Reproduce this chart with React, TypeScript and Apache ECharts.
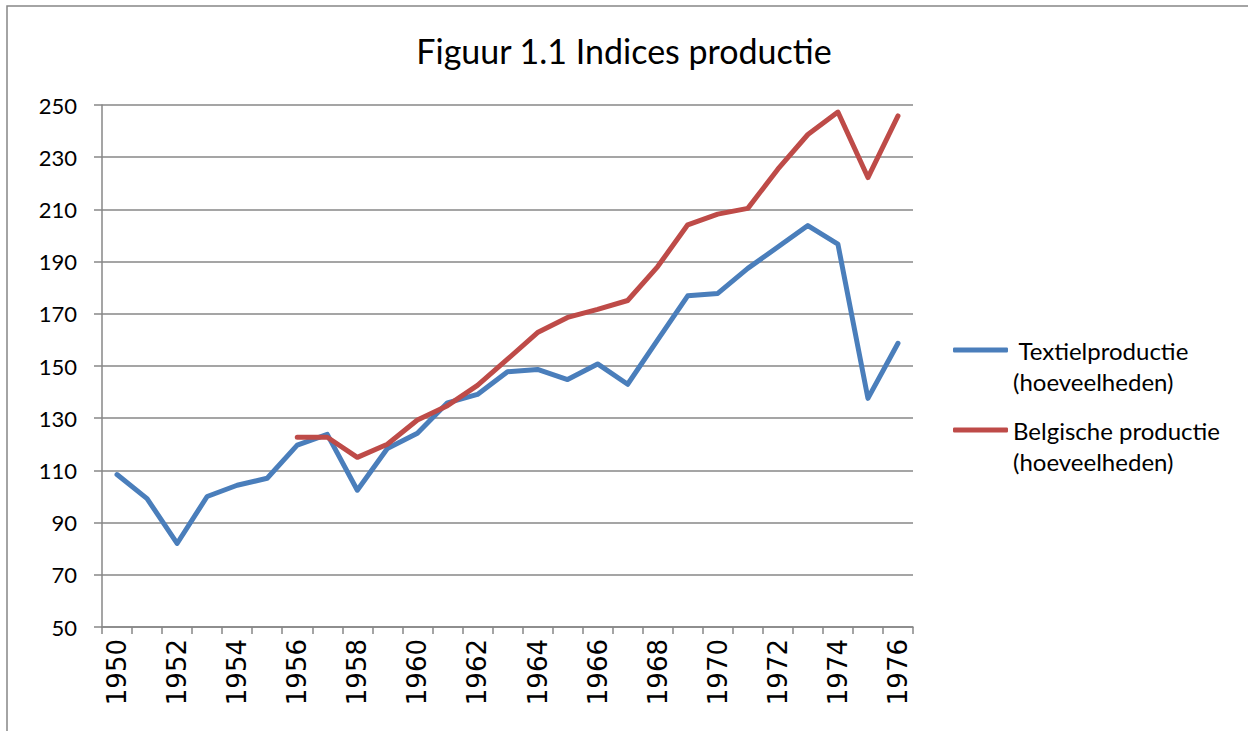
import React, { useEffect, useRef } from "react";
import * as echarts from "echarts";

const years = [
  "1950", "1951", "1952", "1953", "1954", "1955", "1956", "1957", "1958", "1959",
  "1960", "1961", "1962", "1963", "1964", "1965", "1966", "1967", "1968", "1969",
  "1970", "1971", "1972", "1973", "1974", "1975", "1976",
];

const textielName = " Textielproductie\n(hoeveelheden)";
const belgischeName = "Belgische productie\n(hoeveelheden)";

const textielValues = [
  108.4, 99.2, 82, 100, 104.3, 107, 119.7, 123.8, 102.4, 118.4,
  124.2, 135.9, 139.1, 147.8, 148.7, 144.8, 150.8, 143, 160, 176.9,
  177.8, 187.4, 195.6, 203.8, 196.7, 137.6, 158.7,
];

const belgischeValues: (number | null)[] = [
  null, null, null, null, null, null, 122.7, 122.7, 115, 120,
  129.3, 134.8, 142.6, 152.6, 162.8, 168.6, 171.7, 175.1, 188.1, 204.1,
  208.2, 210.4, 225.4, 238.7, 247.3, 222.2, 245.8,
];

const titleText = "Figuur 1.1 Indices productie";
const yMin = 50;
const yMax = 250;
const yInterval = 20;

export default function App() {
  const ref = useRef<HTMLDivElement>(null);

  useEffect(() => {
    if (!ref.current) return;
    const chart = echarts.init(ref.current, undefined, { renderer: "svg" });
    const gray = "#878787";
    const latoFont = "Lato, 'Open Sans', sans-serif";
    const legendCommon = {
      orient: "vertical" as const,
      left: 953,
      padding: 0,
      icon: "roundRect",
      itemWidth: 55,
      itemHeight: 5,
      formatter: (n: string) => "\n" + n,
      textStyle: {
        fontFamily: latoFont,
        fontSize: 24,
        lineHeight: 31,
        color: "#000",
      },
    };
    chart.setOption({
      animation: false,
      backgroundColor: "#ffffff",
      title: {
        text: titleText,
        left: "center",
        top: 28,
        textStyle: {
          fontFamily: latoFont,
          fontSize: 34,
          fontWeight: "normal",
          color: "#000",
        },
      },
      graphic: [
        {
          type: "rect",
          shape: { x: 7, y: 6, width: 1300, height: 800 },
          style: { fill: "none", stroke: gray, lineWidth: 1.5 },
          silent: true,
        },
      ],
      legend: [
        { ...legendCommon, top: 303.5, data: [textielName] },
        { ...legendCommon, top: 383.5, data: [belgischeName] },
      ],
      grid: {
        left: 102,
        right: 335,
        top: 105,
        bottom: 104,
        containLabel: false,
      },
      xAxis: {
        type: "category",
        data: years,
        boundaryGap: true,
        axisLine: { lineStyle: { color: gray, width: 1.5 } },
        axisTick: {
          show: true,
          alignWithLabel: false,
          interval: 0,
          length: 7,
          lineStyle: { color: gray, width: 1.5 },
        },
        axisLabel: {
          interval: 1,
          rotate: 90,
          margin: 12,
          fontFamily: "'DejaVu Sans', Verdana, sans-serif",
          fontSize: 26,
          color: "#000",
        },
        splitLine: { show: false },
      },
      yAxis: {
        type: "value",
        min: yMin,
        max: yMax,
        interval: yInterval,
        axisLine: { show: true, lineStyle: { color: gray, width: 1.5 } },
        axisTick: {
          show: true,
          length: 8,
          lineStyle: { color: gray, width: 1.5 },
        },
        axisLabel: {
          margin: 25,
          fontFamily: latoFont,
          fontSize: 22,
          color: "#000",
        },
        splitLine: { show: true, lineStyle: { color: gray, width: 1.5 } },
      },
      series: [
        {
          name: textielName,
          type: "line",
          data: textielValues,
          showSymbol: false,
          symbol: "none",
          color: "#4A7EBB",
          lineStyle: { width: 5, color: "#4A7EBB", cap: "round", join: "round" },
        },
        {
          name: belgischeName,
          type: "line",
          data: belgischeValues,
          showSymbol: false,
          symbol: "none",
          color: "#BE4B48",
          lineStyle: { width: 5, color: "#BE4B48", cap: "round", join: "round" },
        },
      ],
    });
    return () => chart.dispose();
  }, []);

  return (
    <div
      ref={ref}
      style={{ position: "fixed", left: 0, top: 0, width: 1248, height: 731 }}
    />
  );
}
